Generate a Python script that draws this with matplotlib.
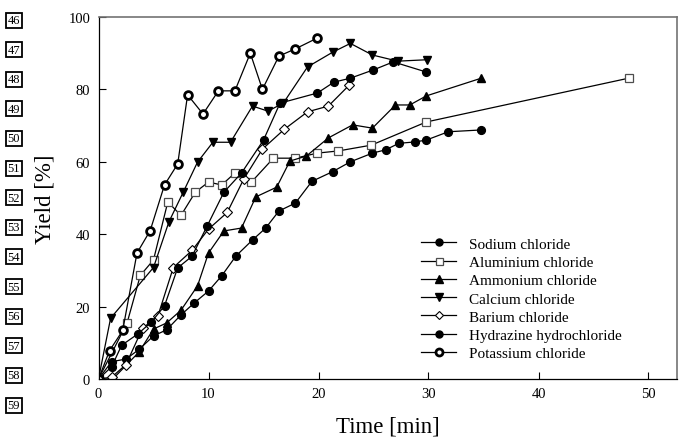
import matplotlib
matplotlib.use('Agg')
import matplotlib.pyplot as plt

plt.rcParams['font.family'] = ['Liberation Serif', 'DejaVu Serif']

# data: time [min] and yield [%]
t_sodium = [0, 1.2, 2.5, 3.7, 5, 6.2, 7.5, 8.7, 10, 11.2, 12.5, 14, 15.2, 16.4, 17.9,
            19.4, 21.3, 22.9, 24.9, 26.1, 27.3, 28.8, 29.8, 31.8, 34.8]
y_sodium = [0, 4.8, 5.5, 8.2, 11.9, 13.6, 17.7, 21, 24.3, 28.5, 34, 38.4, 41.7, 46.4, 48.6,
            54.6, 57.3, 60, 62.4, 63.3, 65.1, 65.5, 66, 68.3, 68.8]

t_alum = [0, 2.6, 3.8, 5, 6.3, 7.5, 8.8, 10, 11.2, 12.4, 13.9, 15.9, 17.9, 19.9, 21.8,
          24.8, 29.8, 48.2]
y_alum = [0, 15.5, 28.6, 32.9, 48.9, 45.2, 51.6, 54.4, 53.6, 56.9, 54.4, 61, 61, 62.4, 63,
          64.6, 71, 83.1]

t_ammon = [0, 1.3, 3.7, 5, 6.2, 7.5, 9, 10, 11.4, 13, 14.3, 16.2, 17.4, 18.9, 20.9, 23.1,
           24.9, 27, 28.3, 29.8, 34.8]
y_ammon = [0, 0, 7.5, 13.8, 15.5, 19, 25.7, 34.8, 40.9, 41.7, 50.3, 53, 60.2, 61.6, 66.6,
           70.2, 69.3, 75.7, 75.7, 78.2, 83.1]

t_calc = [0, 1.1, 5, 6.4, 7.7, 9, 10.4, 12, 14, 15.4, 16.8, 19, 21.3, 22.9, 24.9, 27.2, 29.9]
y_calc = [0, 16.8, 30.8, 43.4, 51.6, 59.9, 65.4, 65.4, 75.4, 74, 76.2, 86.2, 90.3, 92.7,
          89.5, 87.8, 88.2]

t_bar = [0, 1.2, 2.5, 4, 5.4, 6.8, 8.5, 10, 11.7, 13.2, 14.9, 16.9, 19, 20.9, 22.8]
y_bar = [0, 0.5, 4, 14, 17.4, 30.8, 35.5, 41.4, 46, 55.2, 63.5, 69, 73.8, 75.4, 81.2]

t_hydr = [0, 1.2, 2.1, 3.6, 4.8, 6, 7.2, 8.5, 9.9, 11.4, 13, 15, 16.5, 19.9, 21.4, 22.9,
          25, 26.8, 29.8]
y_hydr = [0, 3.4, 9.3, 12.5, 15.7, 20.2, 30.7, 33.9, 42.4, 51.6, 56.9, 66, 76.2, 79, 82,
          83.1, 85.4, 87.6, 84.8]

t_pot = [0, 1, 2.2, 3.5, 4.7, 6, 7.2, 8.1, 9.5, 10.9, 12.4, 13.8, 14.9, 16.4, 17.9, 19.9]
y_pot = [0, 7.8, 13.4, 34.8, 41, 53.6, 59.4, 78.5, 73.2, 79.6, 79.6, 90, 80, 89.2, 91.2, 94.2]

fig = plt.figure(figsize=(6.82, 4.39), dpi=100)
ax = fig.add_axes([98.5 / 682, 1 - 380 / 439, (677 - 98.5) / 682, (380 - 18) / 439])

lw = 0.9
ms = 5.6
ax.plot(t_sodium, y_sodium, '-o', color='black', lw=lw, ms=ms, label='Sodium chloride')
ax.plot(t_alum, y_alum, '-s', color='black', lw=lw, ms=ms, mfc='white', mec='0.3', mew=0.9,
        label='Aluminium chloride')
ax.plot(t_ammon, y_ammon, '-^', color='black', lw=lw, ms=ms + 0.4, label='Ammonium chloride')
ax.plot(t_calc, y_calc, '-v', color='black', lw=lw, ms=ms + 0.4, label='Calcium chloride')
ax.plot(t_bar, y_bar, '-D', color='black', lw=lw, ms=ms - 0.8, mfc='white', mew=0.8,
        label='Barium chloride')
ax.plot(t_hydr, y_hydr, '-o', color='black', lw=lw, ms=ms, label='Hydrazine hydrochloride')
ax.plot(t_pot, y_pot, '-o', color='black', lw=lw, ms=ms, mfc='white', mew=2.0,
        label='Potassium chloride')

ax.set_xlim(0, (677 - 98.5) / 11)
ax.set_ylim(0, 100)
ax.set_xticks([0, 10, 20, 30, 40, 50])
ax.set_yticks([0, 20, 40, 60, 80, 100])
ax.tick_params(direction='in', length=5, width=0.8, labelsize=10.5, pad=6,
               top=False, right=False)
for s in ['top', 'right']:
    ax.spines[s].set_color('0.45')
    ax.spines[s].set_linewidth(1.2)
for s in ['left', 'bottom']:
    ax.spines[s].set_linewidth(0.9)

ax.set_xlabel('Time [min]', fontsize=16.5, labelpad=11)
ax.set_ylabel('Yield [%]', fontsize=16.5, labelpad=9)

ax.legend(loc='upper left', bbox_to_anchor=(421 / 682, 1 - 238 / 439),
          bbox_transform=fig.transFigure, frameon=False, fontsize=11,
          handlelength=2.3, handletextpad=0.85, labelspacing=0.3,
          borderpad=0, borderaxespad=0, markerscale=0.9)

# manuscript line numbers in the left margin
line_nums = [str(n) for n in range(46, 60)]
for i, txt in enumerate(line_nums):
    yy = 21 + i * (406 - 21) / 13
    fig.text(14 / 682, 1 - yy / 439, txt, ha='center', va='center', fontsize=9,
             bbox=dict(boxstyle='square,pad=0.12', fc='white', ec='black', lw=1.3))

fig.savefig('out.png', dpi=100)
